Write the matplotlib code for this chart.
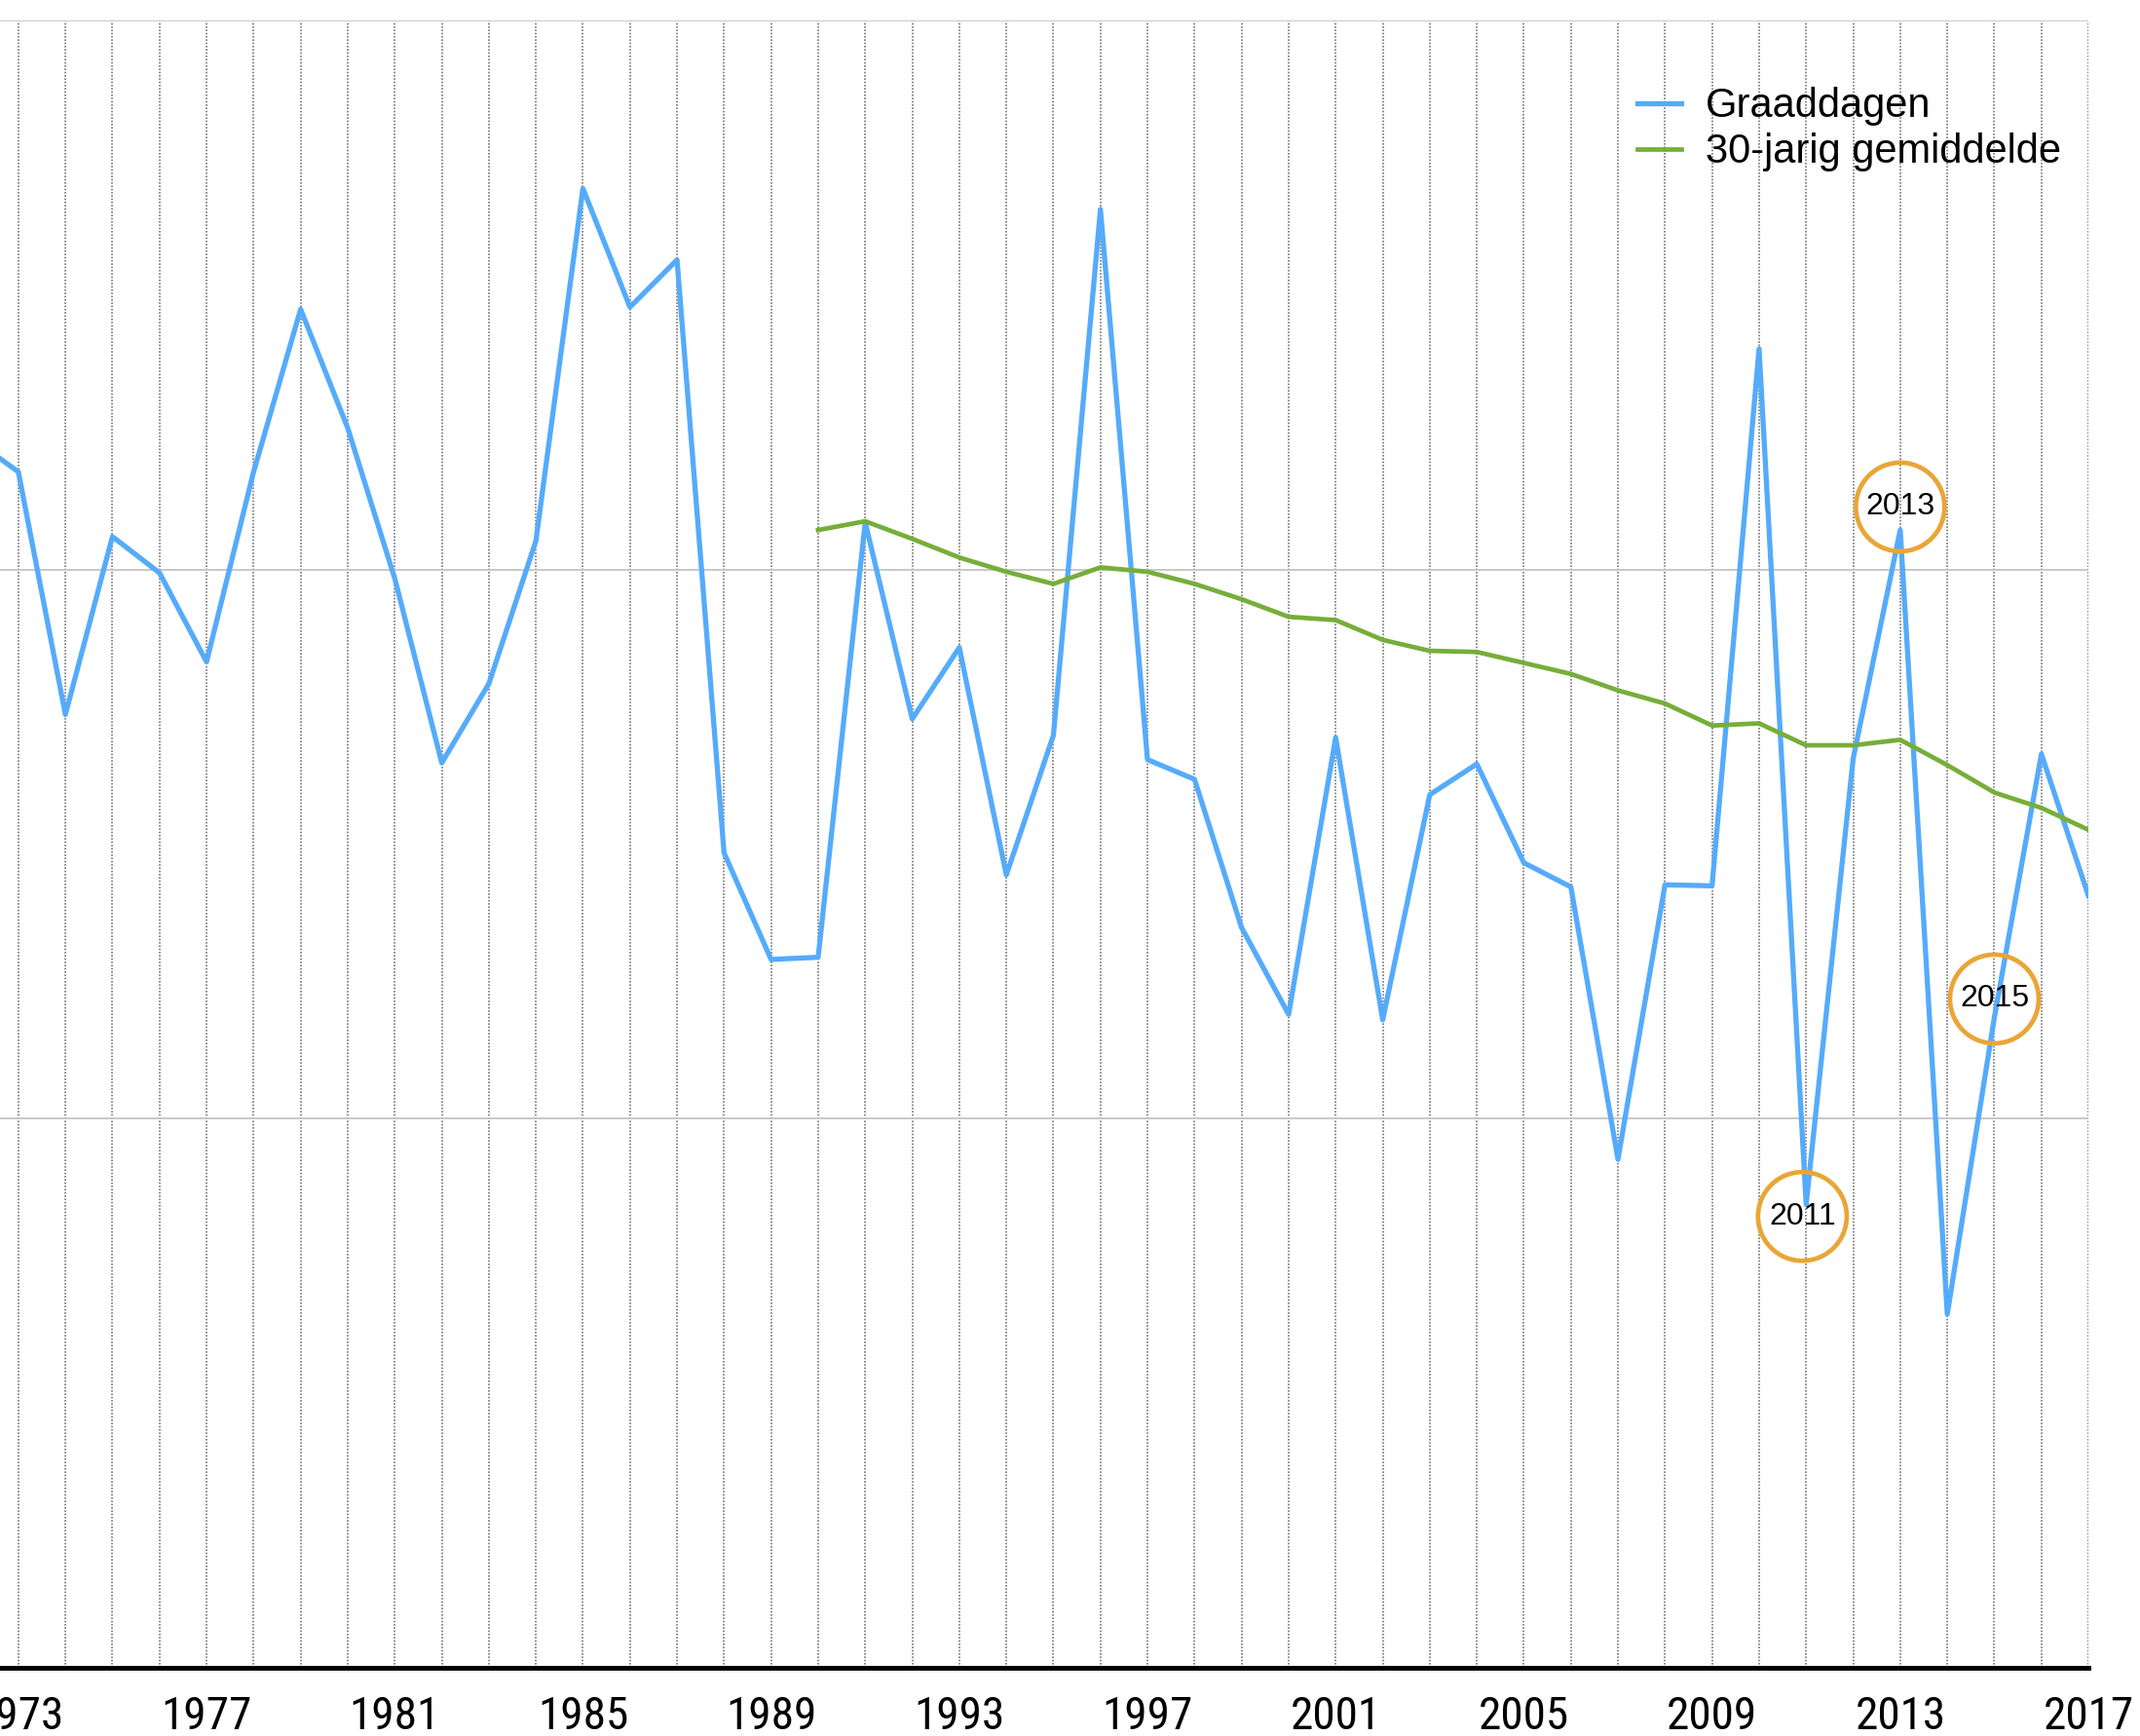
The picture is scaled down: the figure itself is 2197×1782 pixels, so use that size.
import matplotlib
matplotlib.use("Agg")
import matplotlib.pyplot as plt

# Graaddagen per jaar
years = list(range(1972, 2018))
graaddagen = [3120, 3089, 2868, 3030, 2997, 2916, 3089, 3237, 3129, 2992,
              2824, 2896, 3026, 3347, 3239, 3282, 2742, 2645, 2647, 3043,
              2864, 2929, 2722, 2849, 3328, 2827, 2809, 2674, 2595, 2847,
              2590, 2795, 2823, 2733, 2711, 2463, 2713, 2712, 3201, 2422,
              2828, 3036, 2322, 2592, 2832, 2703]

# 30-jarig gemiddelde (vanaf 1990)
avg_years = list(range(1990, 2018))
gemiddelde = [3036, 3044, 3028, 3011, 2998, 2987, 3002, 2998, 2987, 2973,
              2957, 2954, 2936, 2926, 2925, 2915, 2905, 2890, 2878, 2858,
              2860, 2840, 2840, 2845, 2822, 2797, 2783, 2763]

# omcirkelde jaren
circle_years = [2010.92, 2013, 2015]
circle_labels = ['2011', '2013', '2015']
circle_values = [2411, 3057, 2609]

tick_years = list(range(1973, 2018, 4))

plt.rcParams['font.family'] = ['Liberation Sans', 'DejaVu Sans']
narrow = ['Roboto Condensed', 'Archivo Narrow', 'Liberation Sans']

fig = plt.figure(figsize=(21.97, 17.82), dpi=100)
ax = fig.add_axes([0, 0.0393, 0.9759, 0.9489])

ax.plot(years, graaddagen, color='#55abfb', lw=3.8, label='Graaddagen')
ax.plot(avg_years, gemiddelde, color='#76ae3a', lw=3.4, label='30-jarig gemiddelde')

ax.scatter(circle_years, circle_values, s=4300, facecolors='none',
           edgecolors='#e9a636', linewidths=3.4, zorder=5)
for yr, lab, val in zip(circle_years, circle_labels, circle_values):
    ax.text(yr, val, lab, ha='center', va='center', fontsize=23, color='black', zorder=6)

ax.set_xticks(tick_years)
ax.set_xticks(years, minor=True)
ax.set_xticklabels([str(t) for t in tick_years], fontsize=34, family=narrow)
ax.set_yticks([2000, 2500, 3000, 3500])
ax.set_yticklabels([])
ax.tick_params(axis='both', which='both', length=0)
ax.tick_params(axis='x', pad=20)
ax.set_xlim(1972.61, 2017)
ax.set_ylim(2000, 3500)

ax.grid(axis='x', which='both', color='#777777', linestyle=(0, (1, 1)), lw=1.2)
ax.grid(axis='y', which='major', color='#c4c4c4', linestyle='-', lw=1.3)
ax.set_axisbelow(True)

for side in ['left', 'right', 'top']:
    ax.spines[side].set_visible(False)
ax.spines['bottom'].set_color('black')
ax.spines['bottom'].set_linewidth(3.5)
ax.spines['bottom'].set_zorder(10)

ax.legend(loc='upper left', bbox_to_anchor=(0.765, 0.950), bbox_transform=fig.transFigure,
          frameon=False, fontsize=30, handlelength=1.08, handletextpad=0.6,
          labelspacing=0.17, borderpad=0, borderaxespad=0)

fig.savefig("out.png", dpi=100)
